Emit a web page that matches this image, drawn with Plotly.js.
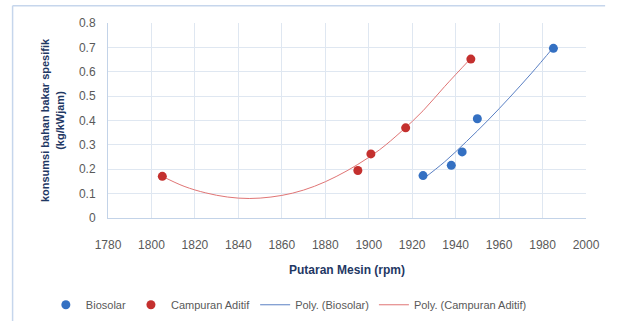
<!DOCTYPE html>
<html>
<head>
<meta charset="utf-8">
<script src="https://cdn.plot.ly/plotly-3.0.1.min.js"></script>
<style>html,body{margin:0;padding:0;background:#fff;}#chart{width:617px;height:321px;}</style>
</head>
<body>
<div id="chart"></div>
<script>
// Data
var biosolarX = [1925, 1938, 1943, 1950, 1985];
var biosolarY = [0.174, 0.216, 0.271, 0.407, 0.696];
var aditifX = [1805, 1895, 1901, 1917, 1947];
var aditifY = [0.171, 0.195, 0.263, 0.370, 0.652];
// Trendline curves
var polyBioX = [1925, 1935, 1945, 1955, 1965, 1975, 1985];
var polyBioY = [0.160, 0.231, 0.314, 0.402, 0.496, 0.595, 0.700];
var polyAdiX = [1805, 1815, 1825, 1835, 1845, 1855, 1865, 1875, 1885, 1895, 1905, 1915, 1925, 1935, 1947];
var polyAdiY = [0.171, 0.130, 0.103, 0.086, 0.080, 0.086, 0.102, 0.130, 0.170, 0.220, 0.280, 0.355, 0.440, 0.540, 0.655];
var xTicks = [1780, 1800, 1820, 1840, 1860, 1880, 1900, 1920, 1940, 1960, 1980, 2000];
var yTicks = [0, 0.1, 0.2, 0.3, 0.4, 0.5, 0.6, 0.7, 0.8];
var yTickText = ['0', '0.1', '0.2', '0.3', '0.4', '0.5', '0.6', '0.7', '0.8'];

var FONT = '"Liberation Sans", Arial, sans-serif';
var BLUE = '#3470c2', RED = '#c4302e';

var traces = [
  {x: polyBioX, y: polyBioY, type: 'scatter', mode: 'lines', name: 'Poly. (Biosolar)', legendrank: 3,
   line: {color: '#5a80c4', width: 1, shape: 'spline'}},
  {x: polyAdiX, y: polyAdiY, type: 'scatter', mode: 'lines', name: 'Poly. (Campuran Aditif)', legendrank: 4,
   line: {color: '#e07575', width: 1, shape: 'spline'}},
  {x: biosolarX, y: biosolarY, type: 'scatter', mode: 'markers', name: 'Biosolar', legendrank: 1,
   marker: {color: BLUE, size: 9}},
  {x: aditifX, y: aditifY, type: 'scatter', mode: 'markers', name: 'Campuran Aditif', legendrank: 2,
   marker: {color: RED, size: 9}}
];

var layout = {
  width: 617, height: 321,
  margin: {l: 108, r: 31, t: 23, b: 103, autoexpand: false},
  paper_bgcolor: '#ffffff', plot_bgcolor: '#ffffff',
  font: {family: FONT, color: '#595959', size: 12},
  showlegend: true,
  legend: {orientation: 'h', xref: 'paper', yref: 'paper',
           x: -0.13, xanchor: 'left', y: -0.445, yanchor: 'middle',
           font: {family: FONT, size: 11, color: '#595959'}, traceorder: 'normal',
           itemwidth: 30},
  xaxis: {
    range: [1780, 2000], tickvals: xTicks, ticktext: xTicks.map(String),
    showgrid: true, gridcolor: '#dfe7f1', gridwidth: 1,
    showline: true, linecolor: '#c3d3e8', linewidth: 1, zeroline: false,
    ticks: '', ticklen: 0, ticklabelstandoff: 16,
    tickfont: {family: FONT, size: 12, color: '#595959'},
    title: {text: 'Putaran Mesin (rpm)', standoff: 14,
            font: {family: FONT, size: 12, color: '#1f3864', weight: 'bold'}}
  },
  yaxis: {
    range: [0, 0.8], tickvals: yTicks, ticktext: yTickText,
    showgrid: true, gridcolor: '#dfe7f1', gridwidth: 1,
    showline: true, linecolor: '#c3d3e8', linewidth: 1, zeroline: false,
    ticks: '', ticklen: 0, ticklabelstandoff: 9,
    tickfont: {family: FONT, size: 12, color: '#595959'},
    title: {text: 'konsumsi bahan bakar spesifik<br>(kg/kWjam)', standoff: 12,
            font: {family: FONT, size: 11, color: '#1f3864', weight: 'bold'}}
  },
  shapes: [
    {type: 'line', xref: 'paper', yref: 'paper', x0: -0.1996, x1: 1.04, y0: 1.089, y1: 1.089,
     line: {color: '#c6d6ec', width: 1.5}},
    {type: 'line', xref: 'paper', yref: 'paper', x0: -0.1996, x1: -0.1996, y0: 1.089, y1: -0.56,
     line: {color: '#c6d6ec', width: 1.5}}
  ]
};

Plotly.newPlot('chart', traces, layout, {displayModeBar: false, staticPlot: true});
</script>
</body>
</html>
